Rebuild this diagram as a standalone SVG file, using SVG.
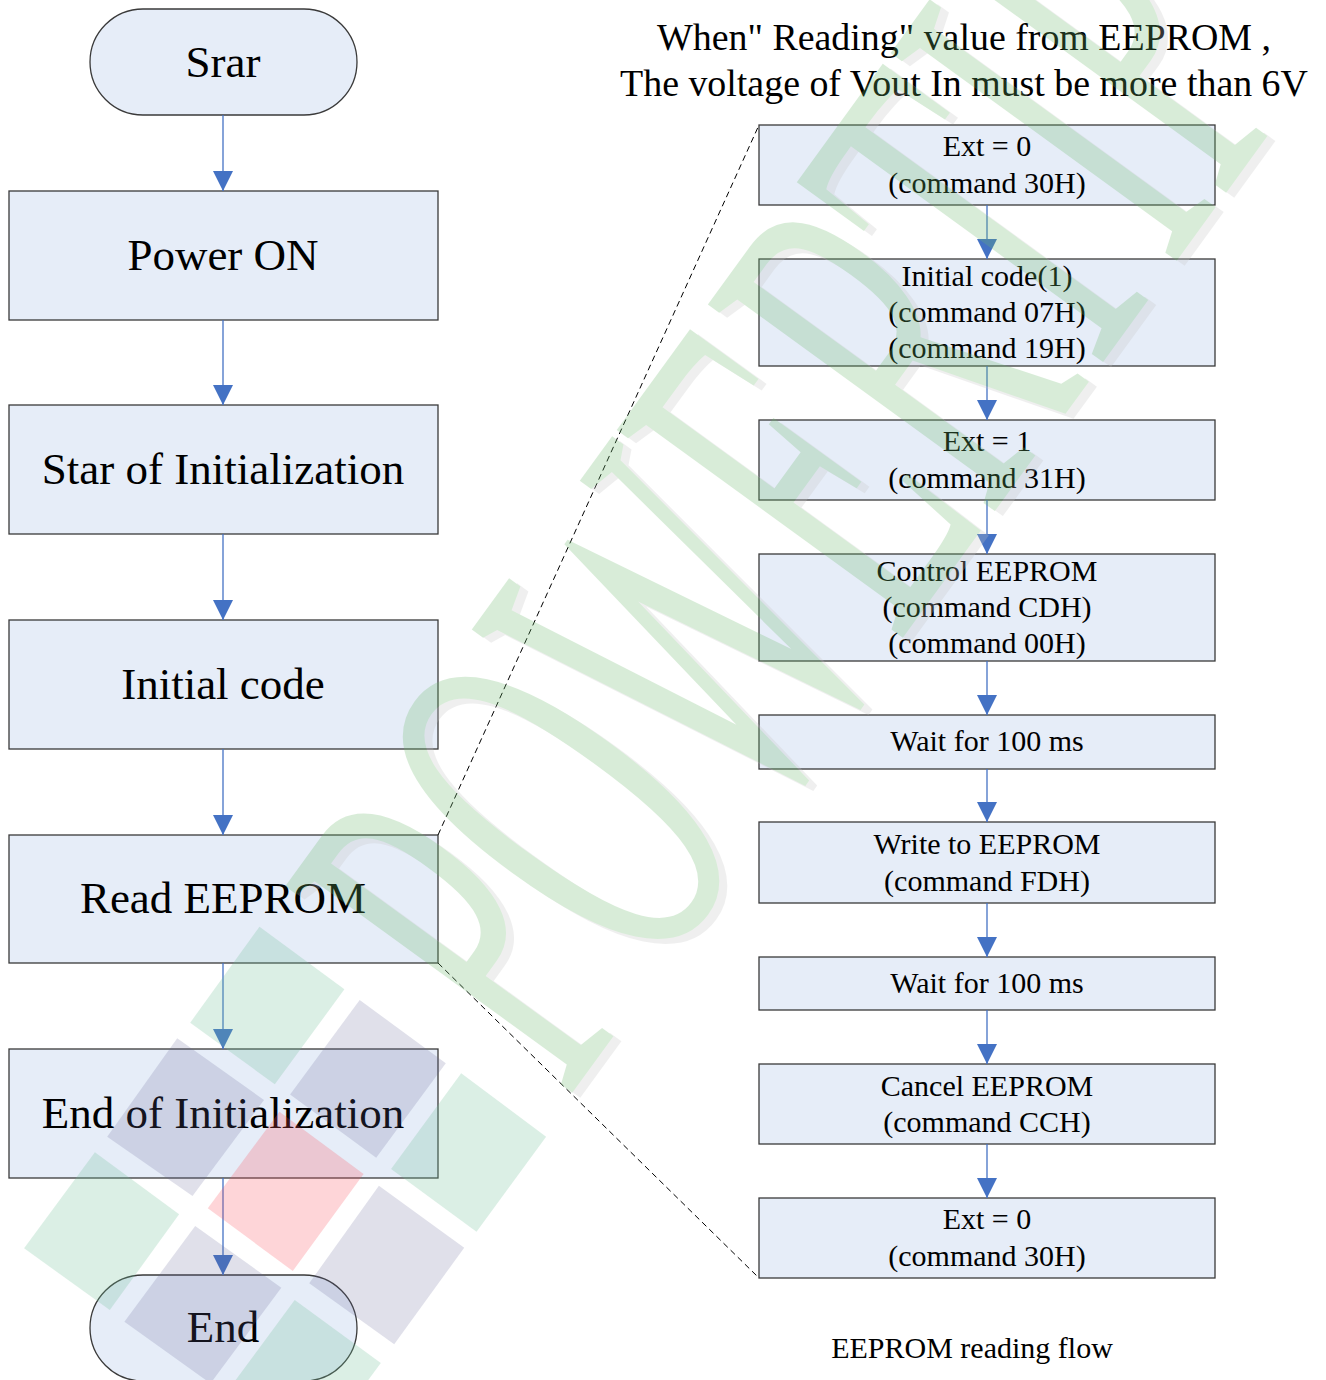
<svg xmlns="http://www.w3.org/2000/svg" width="1326" height="1380" viewBox="0 0 1326 1380">
  <defs>
    <style>
      .box { fill: #e6edf8; stroke: #3a3a3a; stroke-width: 1.3; }
      .big { font-family: "Liberation Serif", "Times New Roman", serif; font-size: 45px; fill: #000; text-anchor: middle; }
      .sm { font-family: "Liberation Serif", "Times New Roman", serif; font-size: 30px; fill: #000; text-anchor: middle; }
      .head { font-family: "Liberation Serif", "Times New Roman", serif; font-size: 37.9px; fill: #000; text-anchor: middle; }
      .conn { stroke: #4472c4; stroke-width: 1.3; fill: none; marker-end: url(#arr); }
      .dash { stroke: #000; stroke-width: 1; stroke-dasharray: 6 4; fill: none; }
      .wm { font-family: "Liberation Serif", "Times New Roman", serif; font-size: 540px; }
      .sqg { fill: rgb(110,190,150); fill-opacity: 0.25; }
      .sqp { fill: rgb(100,100,150); fill-opacity: 0.2; }
      .sqr { fill: rgb(250,80,90); fill-opacity: 0.24; }
    </style>
    <marker id="arr" viewBox="0 -10 20 20" refX="20" refY="0" markerWidth="20" markerHeight="20" markerUnits="userSpaceOnUse" orient="auto">
      <path d="M0,-10 L20,0 L0,10 Z" fill="#4472c4"/>
    </marker>
  </defs>
  <rect x="0" y="0" width="1326" height="1380" fill="#ffffff"/>

  <!-- Left flow -->
  <g id="start">
    <rect class="box" x="90" y="9" width="267" height="106" rx="53" ry="53"/>
    <text class="big" x="223" y="77">Srar</text>
  </g>
  <g id="power-on">
    <rect class="box" x="9" y="191" width="429" height="129"/>
    <text class="big" x="223" y="270">Power ON</text>
  </g>
  <g id="star-init">
    <rect class="box" x="9" y="405" width="429" height="129"/>
    <text class="big" x="223" y="484">Star of Initialization</text>
  </g>
  <g id="initial-code">
    <rect class="box" x="9" y="620" width="429" height="129"/>
    <text class="big" x="223" y="699">Initial code</text>
  </g>
  <g id="read-eeprom">
    <rect class="box" x="9" y="835" width="429" height="128"/>
    <text class="big" x="223" y="913">Read EEPROM</text>
  </g>
  <g id="end-init">
    <rect class="box" x="9" y="1049" width="429" height="129"/>
    <text class="big" x="223" y="1128">End of Initialization</text>
  </g>
  <g id="end">
    <rect class="box" x="90" y="1275" width="267" height="106" rx="53" ry="53"/>
    <text class="big" x="223" y="1342">End</text>
  </g>

  <!-- Heading -->
  <g id="heading">
    <text class="head" x="964" y="50">When" Reading" value from EEPROM ,</text>
    <text class="head" x="964" y="96">The voltage of Vout In must be more than 6V</text>
  </g>

  <!-- Right flow -->
  <g id="r1">
    <rect class="box" x="759" y="125" width="456" height="80"/>
    <text class="sm" x="987" y="156">Ext = 0</text>
    <text class="sm" x="987" y="193">(command 30H)</text>
  </g>
  <g id="r2">
    <rect class="box" x="759" y="259" width="456" height="107"/>
    <text class="sm" x="987" y="286">Initial code(1)</text>
    <text class="sm" x="987" y="322">(command 07H)</text>
    <text class="sm" x="987" y="358">(command 19H)</text>
  </g>
  <g id="r3">
    <rect class="box" x="759" y="420" width="456" height="80"/>
    <text class="sm" x="987" y="451">Ext = 1</text>
    <text class="sm" x="987" y="488">(command 31H)</text>
  </g>
  <g id="r4">
    <rect class="box" x="759" y="554" width="456" height="107"/>
    <text class="sm" x="987" y="581">Control EEPROM</text>
    <text class="sm" x="987" y="617">(command CDH)</text>
    <text class="sm" x="987" y="653">(command 00H)</text>
  </g>
  <g id="r5">
    <rect class="box" x="759" y="715" width="456" height="54"/>
    <text class="sm" x="987" y="751">Wait for 100 ms</text>
  </g>
  <g id="r6">
    <rect class="box" x="759" y="822" width="456" height="81"/>
    <text class="sm" x="987" y="854">Write to EEPROM</text>
    <text class="sm" x="987" y="891">(command FDH)</text>
  </g>
  <g id="r7">
    <rect class="box" x="759" y="957" width="456" height="53"/>
    <text class="sm" x="987" y="993">Wait for 100 ms</text>
  </g>
  <g id="r8">
    <rect class="box" x="759" y="1064" width="456" height="80"/>
    <text class="sm" x="987" y="1096">Cancel EEPROM</text>
    <text class="sm" x="987" y="1132">(command CCH)</text>
  </g>
  <g id="r9">
    <rect class="box" x="759" y="1198" width="456" height="80"/>
    <text class="sm" x="987" y="1229">Ext = 0</text>
    <text class="sm" x="987" y="1266">(command 30H)</text>
  </g>

  <g id="caption">
    <text class="sm" x="972" y="1358">EEPROM reading flow</text>
  </g>

  <!-- Connectors -->
  <g id="connectors">
    <line class="conn" x1="223" y1="115" x2="223" y2="191"/>
    <line class="conn" x1="223" y1="320" x2="223" y2="405"/>
    <line class="conn" x1="223" y1="534" x2="223" y2="620"/>
    <line class="conn" x1="223" y1="749" x2="223" y2="835"/>
    <line class="conn" x1="223" y1="963" x2="223" y2="1049"/>
    <line class="conn" x1="223" y1="1178" x2="223" y2="1275"/>
    <line class="conn" x1="987" y1="205" x2="987" y2="259"/>
    <line class="conn" x1="987" y1="366" x2="987" y2="420"/>
    <line class="conn" x1="987" y1="500" x2="987" y2="554"/>
    <line class="conn" x1="987" y1="661" x2="987" y2="715"/>
    <line class="conn" x1="987" y1="769" x2="987" y2="822"/>
    <line class="conn" x1="987" y1="903" x2="987" y2="957"/>
    <line class="conn" x1="987" y1="1010" x2="987" y2="1064"/>
    <line class="conn" x1="987" y1="1144" x2="987" y2="1198"/>
    <line class="dash" x1="438" y1="835" x2="759" y2="125"/>
    <line class="dash" x1="438" y1="963" x2="759" y2="1278"/>
  </g>

  <!-- Watermark -->
  <g id="watermark">
    <g opacity="0.26">
      <text class="wm" fill="#c4c4c4" transform="translate(575 1105) rotate(-54) scale(0.47 1)">POWERTIP</text>
      <text class="wm" fill="#6cba6c" transform="translate(567 1100) rotate(-54) scale(0.47 1)">POWERTIP</text>
    </g>
    <polygon class="sqg" points="259.5,926.7 344.4,989.3 274.8,1084.3 190.2,1022.7"/>
    <polygon class="sqp" points="359.7,1000 445.8,1063.3 376.2,1157.7 290.1,1094.4"/>
    <polygon class="sqp" points="177.2,1038.3 264,1100 192.5,1196 107.2,1136.7"/>
    <polygon class="sqr" points="279.4,1111.7 363.6,1174 292.8,1271 207.8,1208.3"/>
    <polygon class="sqg" points="461.2,1073.3 546.1,1136.7 476.5,1231.7 391.1,1169"/>
    <polygon class="sqp" points="378.9,1185.7 464.2,1247.7 394.2,1344.3 309.2,1283.3"/>
    <polygon class="sqg" points="94.9,1152.3 179.1,1214.3 109.8,1310 24.1,1248.3"/>
    <polygon class="sqp" points="195.2,1226 281.3,1287.7 210.5,1383.4 124.4,1321.7"/>
    <polygon class="sqg" points="294.7,1300 380.8,1363 310,1459 223.9,1396"/>
  </g>
</svg>
